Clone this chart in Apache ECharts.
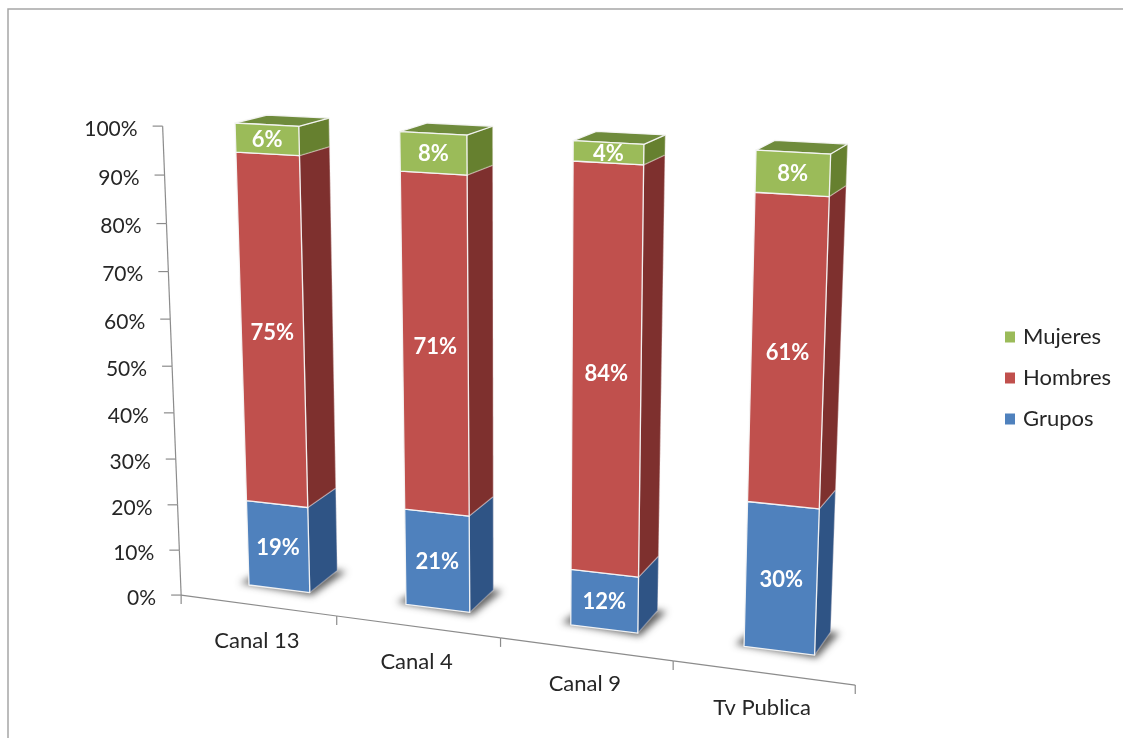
<!DOCTYPE html>
<html><head><meta charset="utf-8">
<style>html,body{margin:0;padding:0;background:#fff}#c{width:1123px;height:742px}</style>
<script src="https://cdn.jsdelivr.net/npm/echarts@6/dist/echarts.min.js"></script>
</head><body><div id="c"></div>
<script>
const categories = ['Canal 13', 'Canal 4', 'Canal 9', 'Tv Publica'];
const grupos = [19, 21, 12, 30];
const hombres = [75, 71, 84, 61];
const mujeres = [6, 8, 4, 8];
const yTicks = [0, 10, 20, 30, 40, 50, 60, 70, 80, 90, 100];

// Perspective of the drawing plane: the front faces' plane corners on screen.
const PLANE = { tl: [235, 123], tr: [830, 154], br: [814, 655], bl: [249, 585] };
const U0 = -0.0895, U1 = 1.18;  // grid fraction -> plane fraction
const DEPTH = { x: [[32, 29], [17, 16]], y: [[-8, -22], [-10, -23]] };
const AXIS_Z = [-0.72, -1];
const BAR_RATIO = 0.393;
const SHADOW_SHIFT = 3000;
const FONT = 'Lato, "Open Sans", sans-serif';

const H = (function () {
  const [x0, y0] = PLANE.tl, [x1, y1] = PLANE.tr, [x2, y2] = PLANE.br, [x3, y3] = PLANE.bl;
  const dx1 = x1 - x2, dx2 = x3 - x2, sx = x0 - x1 + x2 - x3;
  const dy1 = y1 - y2, dy2 = y3 - y2, sy = y0 - y1 + y2 - y3;
  const den = dx1 * dy2 - dx2 * dy1;
  const g = (sx * dy2 - dx2 * sy) / den, h = (dx1 * sy - sx * dy1) / den;
  return { a: x1 - x0 + g * x1, b: x3 - x0 + h * x3, c: x0, d: y1 - y0 + g * y1, e: y3 - y0 + h * y3, f: y0, g, h };
})();

function lerp(a, b, k) { return a + (b - a) * k; }
// f: fraction across the grid, t: fraction down the grid, z: depth (1 = bar back, negative = axis plane)
function project(f, t, z) {
  const u = U0 + U1 * f;
  const w = 1 + H.g * u + H.h * t;
  const px = (H.a * u + H.b * t + H.c) / w, py = (H.d * u + H.e * t + H.f) / w;
  const dx = lerp(lerp(DEPTH.x[0][0], DEPTH.x[0][1], t), lerp(DEPTH.x[1][0], DEPTH.x[1][1], t), u);
  const dy = lerp(lerp(DEPTH.y[0][0], DEPTH.y[0][1], t), lerp(DEPTH.y[1][0], DEPTH.y[1][1], t), u);
  return [px + dx * z, py + dy * z];
}
function axisProject(f, t) { return project(f, t, lerp(AXIS_Z[0], AXIS_Z[1], f)); }
function normalizer(params, api) {
  const cs = params.coordSys;
  return function (pt) { return [(pt[0] - cs.x) / cs.width, (pt[1] - cs.y) / cs.height]; };
}

const shadeOf = {
  Grupos: { front: '#4F81BD', side: '#2F5485', top: '#3F6A9E' },
  Hombres: { front: '#C0504D', side: '#7E302E', top: '#96403D' },
  Mujeres: { front: '#9BBB59', side: '#66802F', top: '#6F8B3C' }
};
const EDGE = 'rgba(245,245,245,0.95)';
const AXIS_COLOR = '#8c8c8c';
const TEXT_COLOR = '#262626';

function barRenderer(name, isBase, isTop) {
  const col = shadeOf[name];
  return function (params, api) {
    const norm = normalizer(params, api);
    const cat = api.value(0), lo = api.value(1), hi = api.value(2);
    const half = api.size([1, 0])[0] * BAR_RATIO / 2;
    const c0 = api.coord([cat, lo]), c1 = api.coord([cat, hi]);
    const a = norm([c0[0] - half, c0[1]]), b = norm([c0[0] + half, c0[1]]);
    const tLo = a[1], tHi = norm(c1)[1], fL = a[0], fR = b[0];
    const poly = (pts, fill, extra) => ({
      type: 'polygon', shape: { points: pts },
      style: Object.assign({ fill: fill, stroke: EDGE, lineWidth: 1.3, lineJoin: 'round' }, extra || {})
    });
    const children = [];
    if (isBase) {
      const fl = project(fL, tLo, 0), fr = project(fR, tLo, 0), br = project(fR, tLo, 1), bl = project(fL, tLo, 1);
      // Only the blurred shadow of this footprint lands on the floor: the shape itself sits off the canvas.
      children.push({
        type: 'polygon',
        shape: { points: [[fl[0] - 9, fl[1] - 2], [fr[0] + 2, fr[1] + 3], [br[0] + 9, br[1] + 1], [bl[0], bl[1]]].map(p => [p[0] - SHADOW_SHIFT, p[1]]) },
        style: { fill: '#000', shadowBlur: 7, shadowOffsetX: SHADOW_SHIFT, shadowColor: 'rgba(70,70,70,0.85)' }
      });
    }
    children.push(poly([project(fR, tLo, 0), project(fR, tHi, 0), project(fR, tHi, 1), project(fR, tLo, 1)], col.side, { stroke: 'rgba(245,235,235,0.35)' }));
    if (isTop) {
      children.push(poly([project(fL, tHi, 0), project(fR, tHi, 0), project(fR, tHi, 1), project(fL, tHi, 1)], col.top));
    }
    children.push(poly([project(fL, tLo, 0), project(fR, tLo, 0), project(fR, tHi, 0), project(fL, tHi, 0)], col.front));
    const mid = project((fL + fR) / 2, (tLo + tHi) / 2, 0);
    children.push({
      type: 'text',
      style: { x: mid[0], y: mid[1] + 1, text: api.value(3) + '%', fill: '#fff', align: 'center', verticalAlign: 'middle', font: 'bold 22px ' + FONT }
    });
    return { type: 'group', children };
  };
}

function yAxisRenderer(params, api) {
  const norm = normalizer(params, api);
  const v = api.value(1);
  const p = axisProject(0, norm(api.coord([0, v]))[1]);
  const children = [
    { type: 'line', shape: { x1: p[0] - 10, y1: p[1], x2: p[0], y2: p[1] }, style: { stroke: AXIS_COLOR, lineWidth: 1.2 } },
    { type: 'text', style: { x: p[0] - 25, y: p[1] + 3, text: v + '%', fill: TEXT_COLOR, align: 'right', verticalAlign: 'middle', font: '21px ' + FONT } }
  ];
  if (v < 100) {
    const q = axisProject(0, norm(api.coord([0, v + 10]))[1]);
    children.push({ type: 'line', shape: { x1: p[0], y1: p[1], x2: q[0], y2: q[1] }, style: { stroke: AXIS_COLOR, lineWidth: 1.2 } });
  }
  return { type: 'group', children };
}
function xAxisRenderer(params, api) {
  const norm = normalizer(params, api);
  const cat = api.value(0);
  const half = api.size([1, 0])[0] / 2;
  const c = api.coord([cat, 0]);
  const t = norm(c)[1];
  const fa = norm([c[0] - half, c[1]])[0], fb = norm([c[0] + half, c[1]])[0];
  const a = axisProject(fa, t), b = axisProject(fb, t);
  const mx = (a[0] + b[0]) / 2, my = (a[1] + b[1]) / 2;
  const children = [
    { type: 'line', shape: { x1: a[0], y1: a[1], x2: b[0], y2: b[1] }, style: { stroke: AXIS_COLOR, lineWidth: 1.2 } },
    { type: 'line', shape: { x1: b[0], y1: b[1], x2: b[0], y2: b[1] + 9 }, style: { stroke: AXIS_COLOR, lineWidth: 1.2 } },
    { type: 'text', style: { x: mx - 2, y: my + 35, text: categories[cat], fill: TEXT_COLOR, align: 'center', verticalAlign: 'middle', font: '22px ' + FONT } }
  ];
  if (cat === 0) children.push({ type: 'line', shape: { x1: a[0], y1: a[1], x2: a[0], y2: a[1] + 9 }, style: { stroke: AXIS_COLOR, lineWidth: 1.2 } });
  return { type: 'group', children };
}

function rows(segment, below) {
  return categories.map((_, i) => {
    const sum = grupos[i] + hombres[i] + mujeres[i];
    return [i, below[i] / sum * 100, (below[i] + segment[i]) / sum * 100, segment[i]];
  });
}
const zeros = categories.map(() => 0);
const belowMujeres = categories.map((_, i) => grupos[i] + hombres[i]);

function barSeries(name, seg, below, isBase, isTop) {
  return {
    name, type: 'custom', coordinateSystem: 'cartesian2d', clip: false,
    itemStyle: { color: shadeOf[name].front },
    renderItem: barRenderer(name, isBase, isTop),
    encode: { x: 0, y: [1, 2] },
    data: rows(seg, below), silent: true
  };
}

const chart = echarts.init(document.getElementById('c'), null, { renderer: 'canvas' });
chart.setOption({
  animation: false,
  backgroundColor: '#fff',
  grid: { left: 100, right: 100, top: 100, bottom: 100 },
  xAxis: { type: 'category', data: categories, show: false },
  yAxis: { type: 'value', min: 0, max: 100, interval: 10, show: false },
  legend: {
    data: ['Mujeres', 'Hombres', 'Grupos'], orient: 'vertical', left: 1000, top: 321,
    icon: 'rect', itemWidth: 10, itemHeight: 11, itemGap: 19, selectedMode: false,
    textStyle: { fontFamily: FONT, fontSize: 22, color: TEXT_COLOR, padding: [0, 0, 0, 3] }
  },
  graphic: [{
    type: 'polyline', silent: true,
    shape: { points: [[8, 738], [8, 9], [1123, 9]] },
    style: { fill: 'none', stroke: '#a6a6a6', lineWidth: 1.5 }
  }],
  series: [
    { name: 'ejeY', type: 'custom', coordinateSystem: 'cartesian2d', clip: false, silent: true, renderItem: yAxisRenderer, encode: { x: 0, y: 1 }, data: yTicks.map(v => [0, v]) },
    { name: 'ejeX', type: 'custom', coordinateSystem: 'cartesian2d', clip: false, silent: true, renderItem: xAxisRenderer, encode: { x: 0, y: 1 }, data: categories.map((_, i) => [i, 0]) },
    barSeries('Grupos', grupos, zeros, true, false),
    barSeries('Hombres', hombres, grupos, false, false),
    barSeries('Mujeres', mujeres, belowMujeres, false, true)
  ]
});
</script></body></html>
